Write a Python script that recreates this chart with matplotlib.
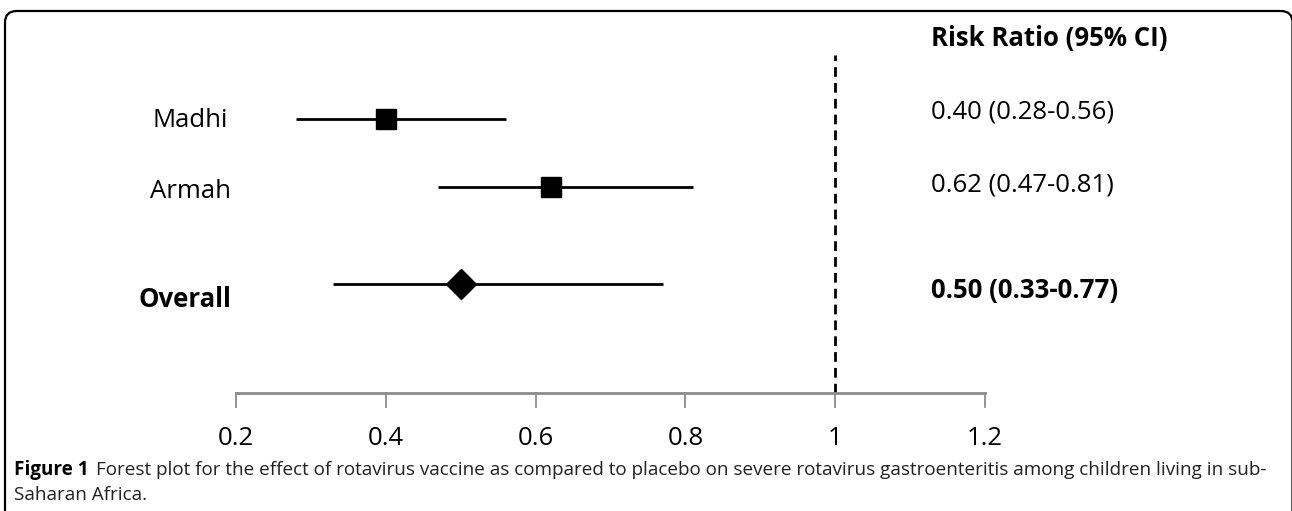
import matplotlib
matplotlib.use("Agg")
import matplotlib.pyplot as plt
from matplotlib.patches import FancyBboxPatch

studies = ["Madhi", "Armah", "Overall"]
rr = [0.40, 0.62, 0.50]
lo = [0.28, 0.47, 0.33]
hi = [0.56, 0.81, 0.77]
rr_labels = ["0.40 (0.28-0.56)", "0.62 (0.47-0.81)", "0.50 (0.33-0.77)"]
xtick_labels = ["0.2", "0.4", "0.6", "0.8", "1", "1.2"]
xtick_vals = [0.2, 0.4, 0.6, 0.8, 1.0, 1.2]
header = "Risk Ratio (95% CI)"

FONT = ["Open Sans", "DejaVu Sans"]
plt.rcParams['font.family'] = FONT

W, H = 1292, 511
fig = plt.figure(figsize=(W/100, H/100), dpi=100)

# rounded frame (bottom and right edge run off the figure)
frame = FancyBboxPatch((5/W, -0.2), (1292.5 - 5)/W, (H - 11)/H + 0.2,
                       boxstyle="round,pad=0,rounding_size=0.009",
                       transform=fig.transFigure, fill=False, lw=1.6, ec="black",
                       mutation_aspect=W/H, clip_on=False)
fig.patches.append(frame)

ax_left = 236/W
ax_right = 985/W
ax_bottom = 1 - 393/H
ax_top = 1 - 55/H
ax = fig.add_axes([ax_left, ax_bottom, ax_right-ax_left, ax_top-ax_bottom])
ax.set_xlim(0.2, 1.2)
ax.set_ylim(0, 4.97)
ax.axis("off")

ypos = [4.03, 3.03, 1.60]

for i, s in enumerate(studies):
    y = ypos[i]
    ax.plot([lo[i], hi[i]], [y, y], color="black", lw=2.0, solid_capstyle="butt")
    if s == "Overall":
        ax.plot(rr[i], y, marker="D", ms=15, color="black", mec="black")
    else:
        ax.plot(rr[i], y, marker="s", ms=15, color="black", mec="black")

# dashed line at 1
ax.plot([1.0, 1.0], [0, 4.97], color="black", lw=2.0, ls=(0, (3.5, 2.2)))

# x axis
axis_color = "#8c8c8c"
ax.plot([0.2, 1.2], [0, 0], color=axis_color, lw=2.0, clip_on=False)
for v in xtick_vals:
    ax.plot([v, v], [0, -0.21], color=axis_color, lw=1.3, clip_on=False)
for v, lab in zip(xtick_vals, xtick_labels):
    ax.text(v, -0.67, lab, ha="center", va="center", fontsize=18.5, clip_on=False)

def px2x(px):
    return 0.2 + (px - 236) / 749 * 1.0

def py2y(py):
    return (393 - py) / 68.0

label_px = [(190, 121), (191, 192), (185, 300)]
for i, s in enumerate(studies):
    ax.text(px2x(label_px[i][0]), py2y(label_px[i][1]), s, ha="center", va="center",
            fontsize=18.5, fontweight="bold" if s == "Overall" else "normal", clip_on=False)

# right column
rx = px2x(931)
ax.text(rx, py2y(39), header, ha="left", va="center", fontsize=18.5, fontweight="bold", clip_on=False)
right_py = [112, 185, 291]
for i, t in enumerate(rr_labels):
    ax.text(rx, py2y(right_py[i]), t, ha="left", va="center", fontsize=18.5,
            fontweight="bold" if studies[i] == "Overall" else "normal", clip_on=False)

# caption
cap_size = 13.6
fig.canvas.draw()
r = fig.canvas.get_renderer()
t1 = fig.text(14/W, 1 - 470/H, "Figure 1", ha="left", va="center", fontsize=cap_size,
              fontweight="bold")
bb = t1.get_window_extent(renderer=r)
fig.text((bb.x1 + 7)/W, 1 - 470/H,
         "Forest plot for the effect of rotavirus vaccine as compared to placebo on severe rotavirus gastroenteritis among children living in sub-",
         ha="left", va="center", fontsize=cap_size, color="#222222")
fig.text(14/W, 1 - 495/H, "Saharan Africa.", ha="left", va="center", fontsize=cap_size,
         color="#222222")

fig.savefig("out.png", dpi=100)
